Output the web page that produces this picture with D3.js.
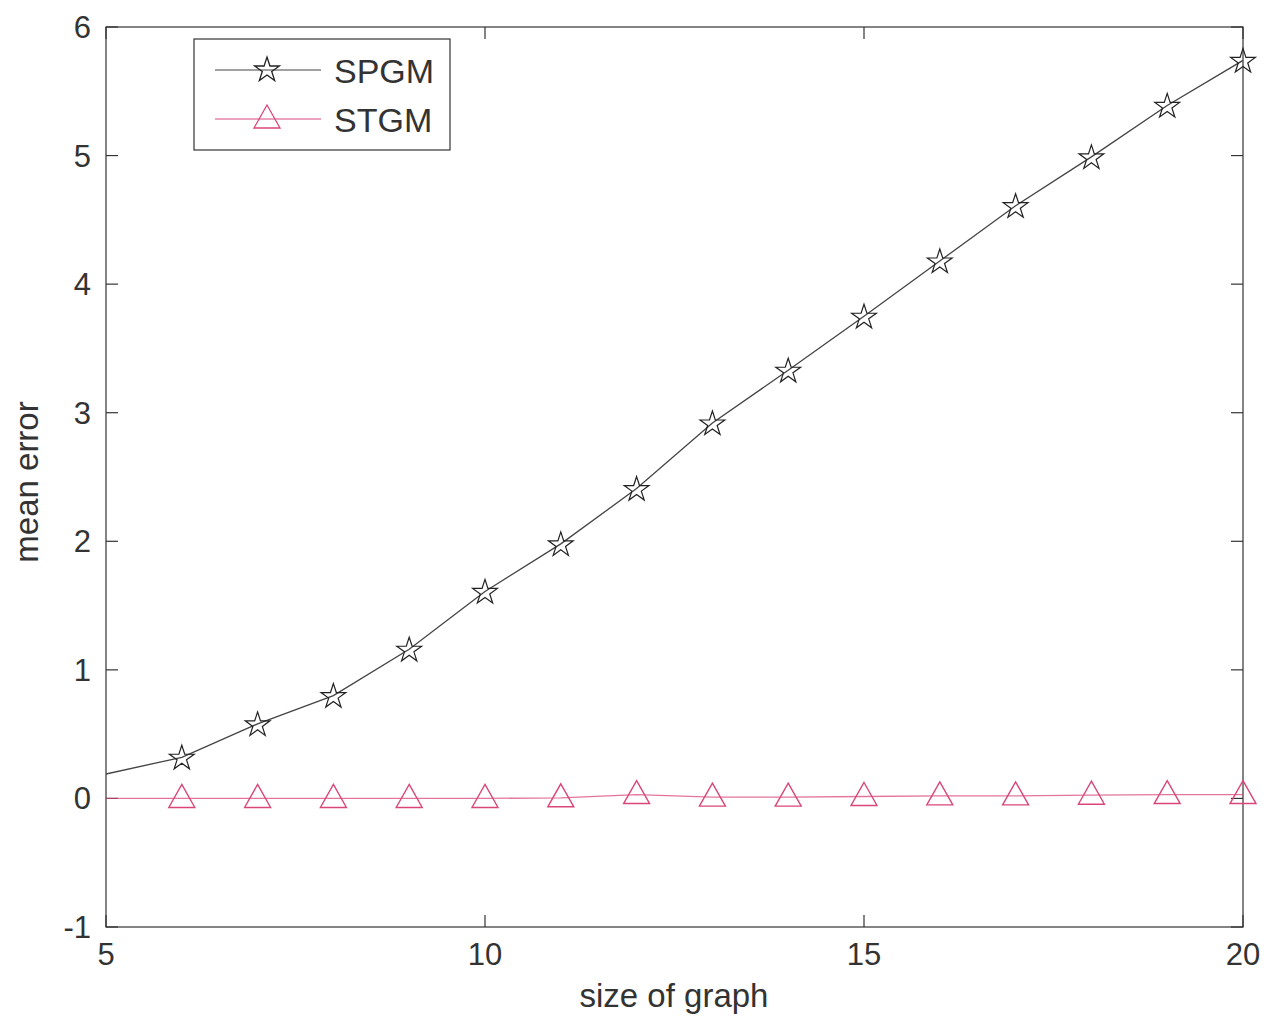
<!DOCTYPE html>
<html>
<head>
<meta charset="utf-8">
<script src="https://cdn.jsdelivr.net/npm/d3@7"></script>
<style>
  body { margin: 0; background: #fff; }
  svg { font-family: "Liberation Sans", Arial, sans-serif; }
</style>
</head>
<body>
<div id="chart"></div>
<script>
// data
const sizes = [4, 5, 6, 7, 8, 9, 10, 11, 12, 13, 14, 15, 16, 17, 18, 19, 20]
const spgm = [0.05, 0.19, 0.32, 0.58, 0.80, 1.16, 1.61, 1.98, 2.41, 2.92, 3.33, 3.75, 4.18, 4.61, 4.99, 5.39, 5.74]
const stgm = [0, 0, 0, 0, 0, 0, 0, 0.005, 0.03, 0.01, 0.01, 0.015, 0.02, 0.02, 0.025, 0.03, 0.03]
const xTicks = [5, 10, 15, 20]
const yTicks = [-1, 0, 1, 2, 3, 4, 5, 6]
const seriesNames = ['SPGM', 'STGM']

const W = 1270, H = 1019
const plotLeft = 106, plotRight = 1243, plotTop = 27, plotBottom = 927

const svg = d3.select('#chart').append('svg')
    .attr('width', W)
    .attr('height', H)

const x = d3.scaleLinear().domain([5, 20]).range([plotLeft, plotRight])
const y = d3.scaleLinear().domain([-1, 6]).range([plotBottom, plotTop])

const clip = svg.append('clipPath').attr('id', 'plotClip')
clip.append('rect')
    .attr('x', plotLeft).attr('y', plotTop)
    .attr('width', plotRight - plotLeft).attr('height', plotBottom - plotTop)

// axes box with inward ticks
const tickLen = 12
const axisG = svg.append('g').attr('stroke', '#333').attr('stroke-width', 1.2).attr('fill', 'none')

axisG.append('rect')
    .attr('x', plotLeft).attr('y', plotTop)
    .attr('width', plotRight - plotLeft).attr('height', plotBottom - plotTop)

xTicks.forEach(t => {
    axisG.append('line').attr('x1', x(t)).attr('x2', x(t)).attr('y1', plotBottom).attr('y2', plotBottom - tickLen)
    axisG.append('line').attr('x1', x(t)).attr('x2', x(t)).attr('y1', plotTop).attr('y2', plotTop + tickLen)
})
yTicks.forEach(t => {
    axisG.append('line').attr('x1', plotLeft).attr('x2', plotLeft + tickLen).attr('y1', y(t)).attr('y2', y(t))
    axisG.append('line').attr('x1', plotRight).attr('x2', plotRight - tickLen).attr('y1', y(t)).attr('y2', y(t))
})

const labelG = svg.append('g').attr('fill', '#333').attr('font-size', 31)

labelG.selectAll('.xt')
    .data(xTicks)
    .join('text')
    .attr('class', 'xt')
    .attr('x', d => x(d))
    .attr('y', plotBottom + 38)
    .attr('text-anchor', 'middle')
    .text(d => d)

labelG.selectAll('.yt')
    .data(yTicks)
    .join('text')
    .attr('class', 'yt')
    .attr('x', plotLeft - 15)
    .attr('y', d => y(d) + 11)
    .attr('text-anchor', 'end')
    .text(d => d)

labelG.append('text')
    .attr('x', 674)
    .attr('y', 1007)
    .attr('text-anchor', 'middle')
    .attr('font-size', 33)
    .text('size of graph')

labelG.append('text')
    .attr('transform', `translate(38, 482) rotate(-90)`)
    .attr('text-anchor', 'middle')
    .attr('font-size', 33)
    .text('mean error')

// markers
const starPath = d3.symbol().type(d3.symbolStar).size(190)()
const triPath = 'M0,-14L13,9L-13,9Z'

const spgmColor = '#444'
const stgmColor = '#d9477a'

const line = d3.line().x(d => x(d[0])).y(d => y(d[1]))

const plot = svg.append('g')

plot.append('path')
    .datum(sizes.map((s, i) => [s, stgm[i]]))
    .attr('clip-path', 'url(#plotClip)')
    .attr('d', line)
    .attr('fill', 'none')
    .attr('stroke', stgmColor)
    .attr('stroke-opacity', 0.75)
    .attr('stroke-width', 1.3)

plot.append('path')
    .datum(sizes.map((s, i) => [s, spgm[i]]))
    .attr('clip-path', 'url(#plotClip)')
    .attr('d', line)
    .attr('fill', 'none')
    .attr('stroke', spgmColor)
    .attr('stroke-width', 1.3)

const shown = sizes.map((s, i) => i).filter(i => sizes[i] > 5)

plot.selectAll('.tri')
    .data(shown)
    .join('path')
    .attr('class', 'tri')
    .attr('transform', i => `translate(${x(sizes[i])},${y(stgm[i])})`)
    .attr('d', triPath)
    .attr('fill', 'none')
    .attr('stroke', stgmColor)
    .attr('stroke-width', 1.4)

plot.selectAll('.star')
    .data(shown)
    .join('path')
    .attr('class', 'star')
    .attr('transform', i => `translate(${x(sizes[i])},${y(spgm[i]) + 1})`)
    .attr('d', starPath)
    .attr('fill', 'none')
    .attr('stroke', '#222')
    .attr('stroke-width', 1.2)

// legend
const legend = svg.append('g')
legend.append('rect')
    .attr('x', 194).attr('y', 39)
    .attr('width', 256).attr('height', 111)
    .attr('fill', '#fff')
    .attr('stroke', '#333')
    .attr('stroke-width', 1.2)

const legendRows = [
    {name: seriesNames[0], color: spgmColor, marker: starPath, stroke: '#222', y: 70},
    {name: seriesNames[1], color: stgmColor, marker: triPath, stroke: stgmColor, y: 119}
]
legendRows.forEach(r => {
    legend.append('line')
        .attr('x1', 215).attr('x2', 321)
        .attr('y1', r.y).attr('y2', r.y)
        .attr('stroke', r.color)
        .attr('stroke-width', 1.2)
    legend.append('path')
        .attr('transform', `translate(267,${r.y})`)
        .attr('d', r.marker)
        .attr('fill', 'none')
        .attr('stroke', r.stroke)
        .attr('stroke-width', 1.3)
    legend.append('text')
        .attr('x', 334)
        .attr('y', r.y + 12.5)
        .attr('font-size', 34)
        .attr('fill', '#333')
        .text(r.name)
})
</script>
</body>
</html>
